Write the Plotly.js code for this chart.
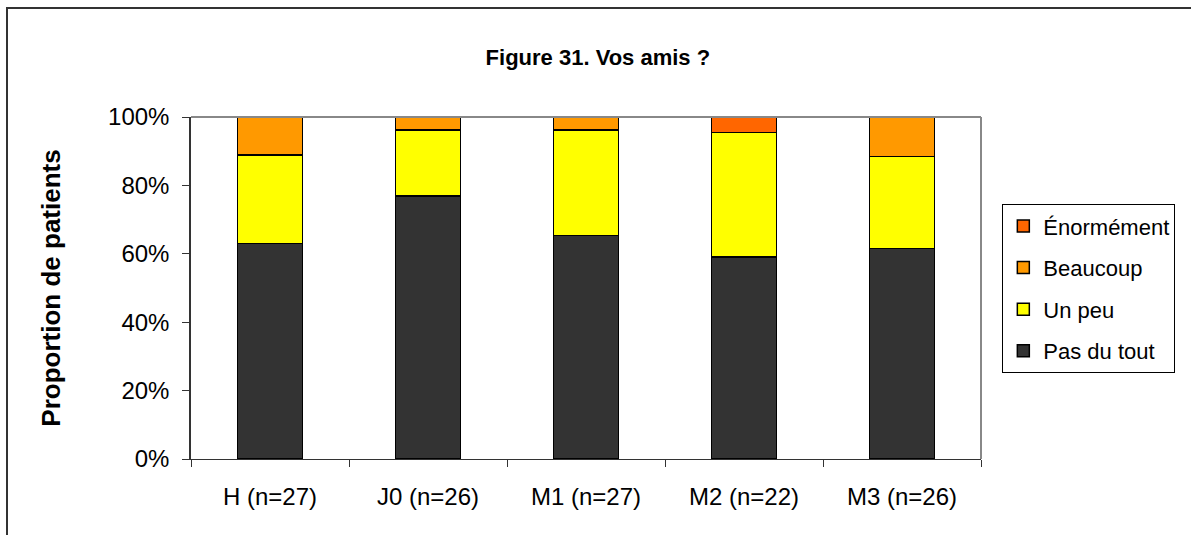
<!DOCTYPE html>
<html>
<head>
<meta charset="utf-8">
<script src="https://cdn.plot.ly/plotly-3.0.1.min.js"></script>
<style>
html,body{margin:0;padding:0;background:#fff;overflow:hidden;}
#frame{position:absolute;left:6px;top:7px;width:1300px;height:700px;border:2px solid #333;box-sizing:border-box;pointer-events:none;z-index:5;}
#chart{position:absolute;left:0;top:0;width:1191px;height:535px;}
</style>
</head>
<body>
<div id="chart"></div>
<div id="frame"></div>
<script>
const categories = ["H (n=27)", "J0 (n=26)", "M1 (n=27)", "M2 (n=22)", "M3 (n=26)"];
const pasDuTout  = [62.96, 76.92, 65.38, 59.09, 61.54];
const unPeu      = [25.93, 19.23, 30.77, 36.36, 26.92];
const beaucoup   = [11.11, 3.85, 3.85, 0, 11.54];
const enormement = [0, 0, 0, 4.55, 0];
const yTickVals  = [0, 20, 40, 60, 80, 100];
const yTickText  = ["0%", "20%", "40%", "60%", "80%", "100%"];

const series = [
  {name: "Pas du tout", y: pasDuTout, color: "#333333", rank: 4},
  {name: "Un peu", y: unPeu, color: "#FFFF00", rank: 3},
  {name: "Beaucoup", y: beaucoup, color: "#FF9900", rank: 2},
  {name: "Énormément", y: enormement, color: "#FF6600", rank: 1}
];

const traces = series.map((s, i) => ({
  type: "bar",
  name: s.name,
  x: categories,
  y: s.y,
  legendgroup: "g" + i,
  legendrank: s.rank,
  marker: {color: s.color, line: {color: "#000", width: 1.5}},
  hoverinfo: "x+y+name"
}));

const layout = {
  width: 1191, height: 535,
  margin: {l: 191, r: 210, t: 117, b: 76},
  paper_bgcolor: "#fff", plot_bgcolor: "#fff",
  barmode: "stack",
  bargap: 0.59,
  font: {family: "Liberation Sans, Arial, sans-serif", size: 24, color: "#000"},
  title: {
    text: "<b>Figure 31. Vos amis ?</b>",
    font: {family: "Liberation Sans, Arial, sans-serif", size: 22, color: "#000"},
    x: 0.502, xanchor: "center", y: 0.893, yanchor: "middle"
  },
  xaxis: {
    type: "category",
    tickson: "boundaries",
    ticks: "outside", ticklen: 7, tickcolor: "#333", tickwidth: 1,
    showline: true, linecolor: "#333", linewidth: 1,
    showgrid: false, zeroline: false,
    ticklabelstandoff: 16,
    tickfont: {size: 24, color: "#000"}
  },
  yaxis: {
    range: [0, 100],
    tickvals: yTickVals, ticktext: yTickText,
    ticks: "outside", ticklen: 7, tickcolor: "#333", tickwidth: 1,
    showline: true, linecolor: "#333", linewidth: 1.5,
    showgrid: false, zeroline: false,
    ticklabelstandoff: 8,
    tickfont: {size: 24, color: "#000"},
    title: {text: "<b>Proportion de patients</b>", font: {size: 26, color: "#000"}, standoff: 40}
  },
  shapes: [
    {type: "line", xref: "paper", yref: "paper", x0: 0, x1: 1, y0: 1, y1: 1, line: {color: "#888", width: 2}},
    {type: "line", xref: "paper", yref: "paper", x0: 1, x1: 1, y0: 0, y1: 1, line: {color: "#888", width: 2}}
  ],
  legend: {
    x: 1.027, xanchor: "left", y: 0.745, yanchor: "top",
    traceorder: "grouped",
    tracegroupgap: 10,
    bordercolor: "#000", borderwidth: 1, bgcolor: "#fff",
    font: {size: 22, color: "#000"},
    itemwidth: 30
  },
  showlegend: true
};

Plotly.newPlot("chart", traces, layout, {displayModeBar: false});
</script>
</body>
</html>
